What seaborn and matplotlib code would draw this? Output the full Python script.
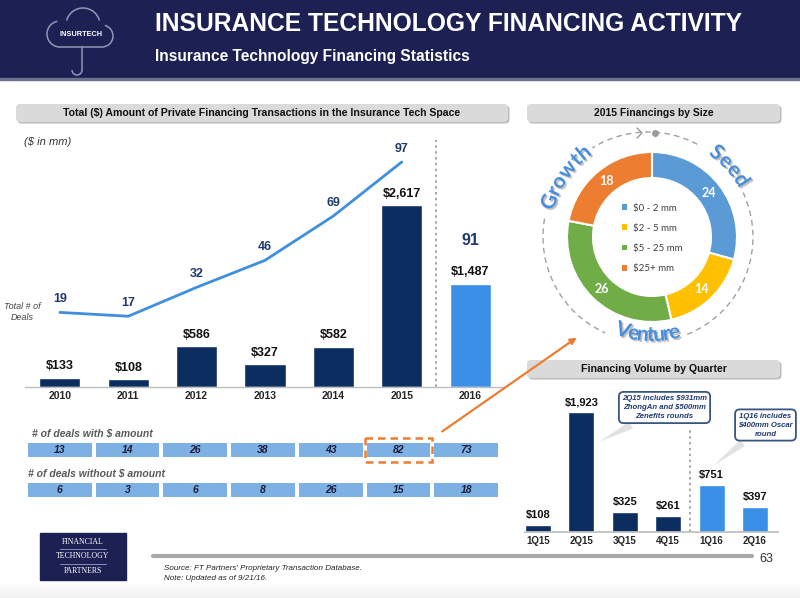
import numpy as np
import pandas as pd
import seaborn as sns
import matplotlib
matplotlib.use("Agg")
import matplotlib.pyplot as plt
from matplotlib.patches import FancyBboxPatch, Rectangle, Arc, FancyArrowPatch
from matplotlib.colors import ListedColormap
import matplotlib.patheffects as pe
from matplotlib.textpath import TextPath
from matplotlib.font_manager import FontProperties

# ---------------- data ----------------
years = ['2010', '2011', '2012', '2013', '2014', '2015', '2016']
amounts = [133, 108, 586, 327, 582, 2617, 1487]
total_deals = [19, 17, 32, 46, 69, 97, 91]
deals_with = [13, 14, 26, 38, 43, 82, 73]
deals_without = [6, 3, 6, 8, 26, 15, 18]
size_labels = ['$0 - 2 mm', '$2 - 5 mm', '$5 - 25 mm', '$25+ mm']
size_counts = [24, 14, 26, 18]
stage_labels = ['Seed', 'Venture', 'Growth']
quarters = ['1Q15', '2Q15', '3Q15', '4Q15', '1Q16', '2Q16']
quarter_amounts = [108, 1923, 325, 261, 751, 397]

NAVY = '#0c2d60'
BRIGHT = '#3a8fe6'
LINE = '#3f8fe0'
LABEL_NAVY = '#1f3a6e'
HEADER = '#1d2052'
W, H = 800, 598

sns.set_theme(style='white')
plt.rcParams['font.family'] = ['Liberation Sans', 'DejaVu Sans']
fig = plt.figure(figsize=(8, 5.98), dpi=100)
fig.patch.set_facecolor('white')
renderer = fig.canvas.get_renderer()


def fr(x0, y0, x1, y1):
    return [x0 / W, 1 - y1 / H, (x1 - x0) / W, (y1 - y0) / H]


def fit(t, width):
    w = t.get_window_extent(renderer).width
    t.set_fontsize(t.get_fontsize() * width / w)


# ---------------- background / static layer ----------------
bg = fig.add_axes([0, 0, 1, 1])
bg.set_xlim(0, W)
bg.set_ylim(H, 0)
bg.axis('off')
bg.add_patch(Rectangle((0, 0), W, 78, color=HEADER, zorder=1))
bg.add_patch(Rectangle((0, 78), W, 2, color='#6d7190', zorder=1))
grad = np.linspace(0, 1, 20).reshape(-1, 1)
bg.imshow(grad, extent=(0, W, 598, 582), cmap=ListedColormap(plt.cm.Greys(np.linspace(0.0, 0.12, 50))),
          aspect='auto', zorder=0)
bg.set_xlim(0, W)
bg.set_ylim(H, 0)

t = bg.text(155, 24, 'INSURANCE TECHNOLOGY FINANCING ACTIVITY', color='white', fontweight='bold',
            fontsize=20, va='center', ha='left', zorder=2)
fit(t, 588)
t = bg.text(155, 57, 'Insurance Technology Financing Statistics', color='white', fontweight='bold',
            fontsize=11, va='center', ha='left', zorder=2)
fit(t, 315)

# insurtech logo (cloud + umbrella handle)
lc = '#9296b4'
for (cx, cy, r, a1, a2) in [(83, 25, 17, 195, 345), (60, 34, 13, 90, 258), (102, 36, 11, 285, 450)]:
    bg.add_patch(Arc((cx, cy), 2 * r, 2 * r, theta1=a1, theta2=a2, color=lc, lw=1.1, zorder=2))
bg.plot([60, 102], [47, 47], color=lc, lw=1.1, zorder=2)
bg.plot([82, 82], [47, 70], color=lc, lw=1.1, zorder=2)
bg.add_patch(Arc((77, 70), 10, 10, theta1=0, theta2=180, color=lc, lw=1.1, zorder=2))
bg.text(81, 35, 'INSURTECH', color='white', fontsize=5.3, fontweight='bold', ha='center', va='center',
        zorder=2)


def title_box(x0, y0, x1, y1, text, width):
    bg.add_patch(FancyBboxPatch((x0 + 1.5, y0 + 1.5), x1 - x0, y1 - y0,
                                boxstyle='round,pad=0,rounding_size=4', fc='#bdbdbd', ec='none', zorder=1))
    bg.add_patch(FancyBboxPatch((x0, y0), x1 - x0, y1 - y0,
                                boxstyle='round,pad=0,rounding_size=4', fc='#dadada', ec='none', zorder=2))
    tt = bg.text((x0 + x1) / 2, (y0 + y1) / 2 + 0.5, text, fontweight='bold', fontsize=8,
                 ha='center', va='center', color='#111111', zorder=3)
    fit(tt, width)


title_box(16, 104, 508, 122, 'Total (\\$) Amount of Private Financing Transactions in the Insurance Tech Space', 400)
title_box(527, 104, 780, 122, '2015 Financings by Size', 120)
title_box(527, 360, 780, 378, 'Financing Volume by Quarter', 147)

bg.text(24, 142, '(\\$ in mm)', fontstyle='italic', fontsize=8, color='#333333', va='center', zorder=3)
bg.text(22, 312, 'Total # of\nDeals', fontstyle='italic', fontsize=6.5, color='#444444',
        ha='center', va='center', linespacing=1.3, zorder=3)
bg.text(32, 433, '# of deals with \\$ amount', fontstyle='italic', fontweight='bold', fontsize=7.5,
        color='#595959', va='center', zorder=3)
bg.text(28, 473, '# of deals without \\$ amount', fontstyle='italic', fontweight='bold', fontsize=7.5,
        color='#595959', va='center', zorder=3)

# footer
bg.plot([153, 752], [556, 556], color='#a9a9a9', lw=3, zorder=2)
bg.text(766, 559, '63', fontsize=9, color='#333333', ha='center', va='center', zorder=3)
bg.text(164, 568, "Source: FT Partners' Proprietary Transaction Database.", fontstyle='italic',
        fontsize=5.8, color='#222222', va='center', zorder=3)
bg.text(164, 578, 'Note: Updated as of 9/21/16.', fontstyle='italic', fontsize=5.8, color='#222222',
        va='center', zorder=3)
bg.add_patch(Rectangle((40, 533), 86, 47, color=HEADER, zorder=2))
for yy, word in [(541.5, 'FINANCIAL'), (556, 'TECHNOLOGY'), (571, 'PARTNERS')]:
    bg.text(83, yy, word, family=['Liberation Serif'], fontsize=5.6, color='white', ha='center',
            va='center', zorder=3)
for yy in (548.5, 563.5):
    bg.plot([60, 106], [yy, yy], color='#9aa0c0', lw=0.6, zorder=3)

# ---------------- main bar chart ----------------
ax1 = fig.add_axes(fr(25, 130, 505, 387))
ax1.patch.set_alpha(0)
df1 = pd.DataFrame({'year': years, 'amount': amounts})
sns.barplot(data=df1, x='year', y='amount', hue='year', palette=[NAVY] * 6 + [BRIGHT],
            width=0.6, saturation=1, legend=False, ax=ax1)
ax1.set_xlim(-0.51, 6.51)
ax1.set_ylim(0, 3698)
for i, v in enumerate(amounts):
    ax1.annotate(f'\\${v:,}', (i, v), xytext=(0, 4), textcoords='offset points', ha='center',
                 va='bottom', fontsize=9, fontweight='bold', color='#111111')
ax1.annotate(str(total_deals[6]), (6, amounts[6]), xytext=(0, 31), textcoords='offset points',
             ha='center', va='center', fontsize=11.5, fontweight='bold', color=LABEL_NAVY)
ax1.set_xlabel('')
ax1.set_ylabel('')
ax1.set_yticks([])
ax1.tick_params(axis='x', length=0, pad=3, labelsize=7.5)
for lab in ax1.get_xticklabels():
    lab.set_fontweight('bold')
for s in ['top', 'right', 'left']:
    ax1.spines[s].set_visible(False)
ax1.spines['bottom'].set_color('#bfbfbf')
ax1.spines['bottom'].set_linewidth(1)
ax1.axvline(5.5, ymin=0, ymax=(387 - 140) / 257, ls=(0, (1.5, 2)), color='#9a9a9a', lw=1.2)

ax1b = ax1.twinx()
sns.lineplot(x=np.arange(6), y=total_deals[:6], ax=ax1b, color=LINE, lw=2)
ax1b.set_ylim(-19.7, 113.6)
ax1b.axis('off')
for i in range(6):
    ax1b.annotate(str(total_deals[i]), (i, total_deals[i]), xytext=(0, 5), textcoords='offset points',
                  ha='center', va='bottom', fontsize=9, fontweight='bold', color=LABEL_NAVY)

# ---------------- deal count tables ----------------
cell_cmap = ListedColormap(['#7eb1e3'])
akw = dict(fontsize=7.5, fontweight='bold', fontstyle='italic', color='#1b1b3a')
axt1 = fig.add_axes(fr(26, 441, 500, 459))
sns.heatmap(np.array([deals_with]), annot=True, fmt='d', cmap=cell_cmap, cbar=False, linewidths=1.5,
            linecolor='white', xticklabels=False, yticklabels=False, annot_kws=akw, ax=axt1)
axt1.add_patch(Rectangle((5, -0.17), 1, 1.34, fill=False, ec='#ee7d31', lw=1.8, ls=(0, (3, 2)),
                         clip_on=False, zorder=5))
axt2 = fig.add_axes(fr(26, 481, 500, 499))
sns.heatmap(np.array([deals_without]), annot=True, fmt='d', cmap=cell_cmap, cbar=False, linewidths=1.5,
            linecolor='white', xticklabels=False, yticklabels=False, annot_kws=akw, ax=axt2)

# ---------------- donut ----------------
ax2 = fig.add_axes(fr(652 - 135, 237 - 135, 652 + 135, 237 + 135))
ax2.patch.set_alpha(0)
wedges, _ = ax2.pie(size_counts, radius=85, startangle=90, counterclock=False,
                    colors=['#5b9bd5', '#ffc000', '#70ad47', '#ed7d31'],
                    wedgeprops=dict(width=26, edgecolor='white', linewidth=1.5))
ax2.set_xlim(-135, 135)
ax2.set_ylim(-135, 135)
ax2.set_aspect('equal')
ax2.axis('off')
for w, c in zip(wedges, size_counts):
    a = np.deg2rad((w.theta1 + w.theta2) / 2)
    ax2.text(72 * np.cos(a), 72 * np.sin(a), str(c), family=['Lato', 'DejaVu Sans'], fontweight='bold',
             fontsize=9, color='white', ha='center', va='center')
leg = ax2.legend(wedges, [s.replace('$', '\\$') for s in size_labels], loc='center', frameon=False,
                 handlelength=0.55, handleheight=0.55, handletextpad=0.6, labelspacing=1.15,
                 prop=FontProperties(family='Lato', size=7), bbox_to_anchor=(0.5, 0.495))
for txt in leg.get_texts():
    txt.set_color('#404040')
for h in leg.legend_handles:
    h.set_edgecolor('none')

# dashed guide circle
dc = '#a0a0a0'
for a1, a2 in [(-68, 25), (62, 122), (170, 246)]:
    ax2.add_patch(Arc((-4, 0), 210, 210, theta1=a1, theta2=a2, color=dc, lw=1, ls=(0, (4, 3))))
ax2.plot([3], [104], marker='o', ms=4, color='#9a9a9a')
ax2.plot([-15, -10, -15], [109, 104, 99], color='#9a9a9a', lw=1)


def curved(ax, s, r, a_start, a_end, size):
    prop = FontProperties(family='Lato', weight='bold', size=size)
    widths = [TextPath((0, 0), ch, prop=prop).get_extents().width + 1.5 for ch in s]
    total = sum(widths)
    cum = 0
    for ch, wd in zip(s, widths):
        frac = (cum + wd / 2) / total
        cum += wd
        ang = a_start + (a_end - a_start) * frac
        rad = np.deg2rad(ang)
        rot = ang - 90 if a_end < a_start else ang + 90
        ax.text(r * np.cos(rad), r * np.sin(rad), ch, fontproperties=prop, color='#4a8fdb',
                rotation=rot, rotation_mode='anchor', ha='center', va='center',
                path_effects=[pe.withSimplePatchShadow(offset=(1.2, -1.2), shadow_rgbFace='#777777',
                                                       alpha=0.45)])


curved(ax2, stage_labels[0], 106, 56, 29, 15)
curved(ax2, stage_labels[2], 108, 165, 126, 15)
curved(ax2, stage_labels[1], 98, 249, 286, 15)

# ---------------- quarterly chart ----------------
ax3 = fig.add_axes(fr(525, 390, 778, 532))
ax3.patch.set_alpha(0)
sns.barplot(x=quarters, y=quarter_amounts, hue=quarters, palette=[NAVY] * 4 + [BRIGHT] * 2,
            width=0.6, saturation=1, legend=False, ax=ax3)
ax3.set_xlim(-0.30, 5.53)
ax3.set_ylim(0, 2276)
for i, v in enumerate(quarter_amounts):
    ax3.annotate(f'\\${v:,}', (i, v), xytext=(0, 3.5), textcoords='offset points', ha='center',
                 va='bottom', fontsize=8, fontweight='bold', color='#111111')
ax3.set_yticks([])
ax3.tick_params(axis='x', length=0, pad=3, labelsize=7)
for lab in ax3.get_xticklabels():
    lab.set_fontweight('bold')
for s in ['top', 'right', 'left']:
    ax3.spines[s].set_visible(False)
ax3.spines['bottom'].set_color('#bfbfbf')
ax3.axvline(3.5, ymin=0, ymax=(532 - 428) / 142, ls=(0, (1.5, 2)), color='#9a9a9a', lw=1.2)

# ---------------- foreground overlay (arrow + callouts) ----------------
fg = fig.add_axes([0, 0, 1, 1], zorder=10)
fg.patch.set_alpha(0)
fg.set_xlim(0, W)
fg.set_ylim(H, 0)
fg.axis('off')
fg.add_patch(FancyArrowPatch((440, 433), (579, 336), arrowstyle='-|>', mutation_scale=9,
                             color='#ee7d31', lw=1.6))
ckw = dict(ha='center', va='center', fontsize=5.6, fontstyle='italic', fontweight='bold', color=LABEL_NAVY,
           linespacing=1.4,
           bbox=dict(boxstyle='round,pad=0.4,rounding_size=0.6', fc='white', ec='#3a5580', lw=1.3),
           arrowprops=dict(arrowstyle='wedge,tail_width=1.0,shrink_factor=0.5', fc='#e2e2e2', ec='none'))
fg.annotate('2Q15 includes \\$931mm\nZhongAn and \\$500mm\nZenefits rounds', xy=(597, 443),
            xytext=(664.5, 407.5), **ckw)
fg.annotate('1Q16 includes\n\\$400mm Oscar\nround', xy=(712, 467), xytext=(765.5, 425), **ckw)

fig.savefig('out.png', dpi=100)
